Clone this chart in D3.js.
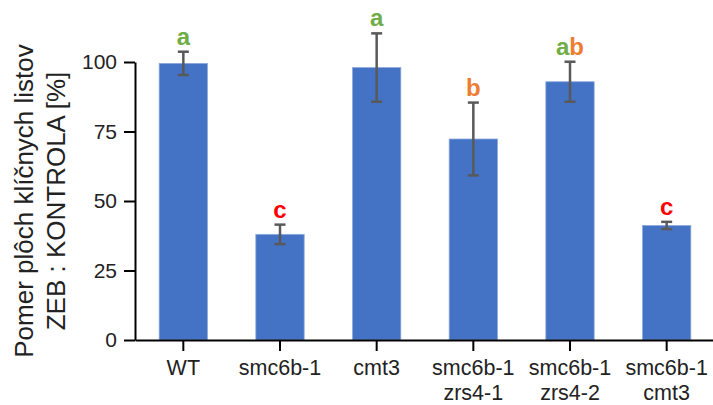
<!DOCTYPE html>
<html>
<head>
<meta charset="utf-8">
<script src="https://cdn.jsdelivr.net/npm/d3@7"></script>
<style>
  body { margin: 0; background: #fff; }
  svg { display: block; font-family: "Liberation Sans", Arial, sans-serif; }
</style>
</head>
<body>
<div id="chart"></div>
<script>
// chart data
const categories = ["WT", "smc6b-1", "cmt3", "smc6b-1\nzrs4-1", "smc6b-1\nzrs4-2", "smc6b-1\ncmt3"];
const means = [99.5, 38.0, 98.0, 72.3, 92.9, 41.2];
const errors = [4.2, 3.5, 12.3, 13.1, 7.2, 1.3];
const letters = ["a", "c", "a", "b", "ab", "c"];
const yTicks = [0, 25, 50, 75, 100];

const letterColor = { a: "#70AD47", b: "#ED7D31", c: "#FF0000" };

// svg size
const W = 713, H = 405;

const svg = d3.select("#chart").append("svg")
    .attr("width", W)
    .attr("height", H);

const x = d3.scaleBand()
    .domain(categories)
    .range([135, 715])
    .paddingInner(0.5)
    .paddingOuter(0.25);

const y = d3.scaleLinear()
    .domain([0, 100])
    .range([340, 62]);

const rows = categories.map((c, i) => ({ c: c, m: means[i], e: errors[i], l: letters[i] }));

// bars
svg.append("g").selectAll("rect")
    .data(rows)
    .enter().append("rect")
    .attr("x", d => x(d.c))
    .attr("y", d => y(d.m))
    .attr("width", x.bandwidth())
    .attr("height", d => y(0) - y(d.m))
    .attr("fill", "#4472C4")
    .attr("stroke", "#8eaadb")
    .attr("stroke-width", 0.8);

// error bars
const eb = svg.append("g")
    .attr("stroke", "#595959")
    .attr("stroke-width", 2.5)
    .selectAll("g")
    .data(rows)
    .enter().append("g")
    .attr("transform", d => "translate(" + (x(d.c) + x.bandwidth() / 2) + ",0)");

eb.append("line")
    .attr("y1", d => y(d.m + d.e))
    .attr("y2", d => y(d.m - d.e));
eb.append("line")
    .attr("x1", -5.5).attr("x2", 5.5)
    .attr("y1", d => y(d.m + d.e)).attr("y2", d => y(d.m + d.e));
eb.append("line")
    .attr("x1", -5.5).attr("x2", 5.5)
    .attr("y1", d => y(d.m - d.e)).attr("y2", d => y(d.m - d.e));

// significance letters
const lab = svg.append("g").selectAll("text")
    .data(rows)
    .enter().append("text")
    .attr("x", d => x(d.c) + x.bandwidth() / 2)
    .attr("y", d => y(d.m + d.e) - 7)
    .attr("text-anchor", "middle")
    .attr("font-size", 24)
    .attr("font-weight", "bold");

lab.selectAll("tspan")
    .data(d => d.l.split(""))
    .enter().append("tspan")
    .attr("fill", ch => letterColor[ch])
    .text(ch => ch);

// y axis
const yAxis = svg.append("g")
    .attr("transform", "translate(135,0)")
    .call(d3.axisLeft(y).tickValues(yTicks).tickSize(11).tickSizeOuter(0).tickPadding(7));

yAxis.select(".domain").attr("stroke", "#000").attr("stroke-width", 2);
yAxis.selectAll(".tick line").attr("stroke", "#000").attr("stroke-width", 2);
yAxis.selectAll(".tick text")
    .attr("font-size", 21)
    .attr("font-family", "Liberation Sans, Arial, sans-serif")
    .attr("fill", "#222");

// x axis
const xAxis = svg.append("g")
    .attr("transform", "translate(0,340)")
    .call(d3.axisBottom(x).tickSize(11).tickSizeOuter(0).tickFormat(""));

xAxis.select(".domain").attr("stroke", "#000").attr("stroke-width", 2);
xAxis.selectAll(".tick line").attr("stroke", "#000").attr("stroke-width", 2);

const xl = svg.append("g").selectAll("text")
    .data(categories)
    .enter().append("text")
    .attr("x", d => x(d) + x.bandwidth() / 2)
    .attr("y", 375)
    .attr("text-anchor", "middle")
    .attr("font-size", 21.5)
    .attr("fill", "#222");

xl.selectAll("tspan")
    .data(d => d.split("\n"))
    .enter().append("tspan")
    .attr("x", function() { return this.parentNode.getAttribute("x"); })
    .attr("dy", (t, i) => i === 0 ? 0 : 25)
    .text(t => t);

// y title
const title = svg.append("text")
    .attr("transform", "translate(33,201) rotate(-90)")
    .attr("text-anchor", "middle")
    .attr("font-size", 26)
    .attr("fill", "#222");

title.append("tspan").attr("x", 0).attr("dy", 0).text("Pomer plôch klíčnych listov");
title.append("tspan").attr("x", 0).attr("dy", 32).text("ZEB : KONTROLA [%]");
</script>
</body>
</html>
